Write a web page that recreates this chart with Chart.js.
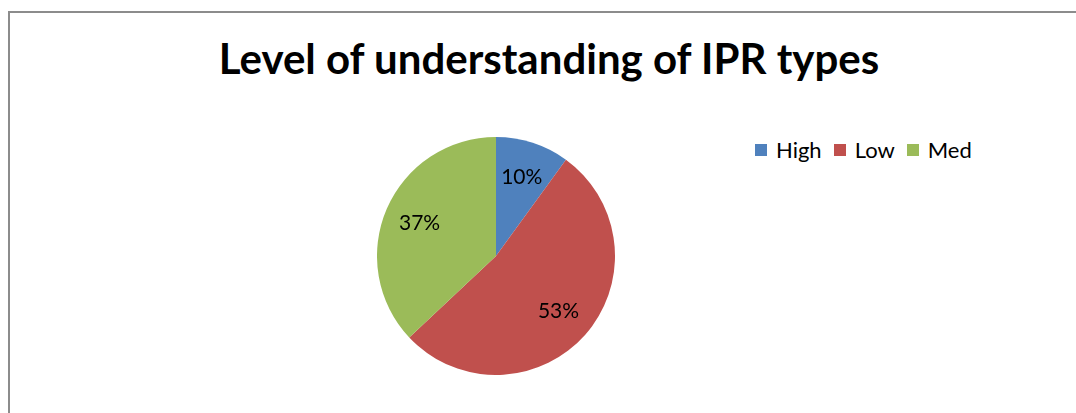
<!DOCTYPE html>
<html>
<head>
<meta charset="utf-8">
<script src="https://cdn.jsdelivr.net/npm/chart.js@4/dist/chart.umd.min.js"></script>
<style>
  html, body { margin: 0; padding: 0; background: #fff; }
  body { width: 1076px; height: 413px; overflow: hidden; position: relative; font-family: Lato, "Open Sans", sans-serif; }
  #frame {
    position: absolute; left: 8px; top: 11px; width: 1090px; height: 430px;
    border-left: 2px solid #8c8c8c; border-top: 2px solid #8c8c8c;
    box-sizing: border-box;
  }
  #title {
    position: absolute; left: 8px; width: 1082px; top: 33px; line-height: 50px;
    text-align: center; font-weight: bold; font-size: 42px; color: #000;
  }
  #pie-wrap { position: absolute; left: 377px; top: 137px; width: 238px; height: 238px; }
  #legend { position: absolute; left: 755px; top: 136px; font-size: 22px; line-height: 28px; color: #000; display: flex; }
  #legend span.item { display: flex; align-items: center; margin-right: 12px; }
  #legend span.box { display: inline-block; width: 12px; height: 12px; margin-right: 9px; }
</style>
</head>
<body>
<div id="frame"></div>
<div id="title">Level of understanding of IPR types</div>
<div id="pie-wrap"><canvas id="pieChart"></canvas></div>
<div id="legend"></div>

<script>
const categories = ['High', 'Low', 'Med'];
const shares = [10, 53, 37];
const sliceColors = ['#4F81BD', '#C0504D', '#9BBB59'];

// percentage labels sit at ~70% of the radius, on each slice's mid angle
const sliceLabels = {
    id: 'sliceLabels',
    afterDatasetsDraw(chart) {
        const ctx = chart.ctx;
        const meta = chart.getDatasetMeta(0);
        ctx.save();
        ctx.font = '21px Lato, "Open Sans", sans-serif';
        ctx.fillStyle = '#000';
        ctx.textAlign = 'center';
        ctx.textBaseline = 'middle';
        meta.data.forEach((arc, i) => {
            const p = arc.getProps(['x', 'y', 'startAngle', 'endAngle', 'outerRadius'], true);
            const mid = (p.startAngle + p.endAngle) / 2;
            const r = p.outerRadius * 0.7;
            ctx.fillText(shares[i] + '%', p.x + Math.cos(mid) * r, p.y + Math.sin(mid) * r);
        });
        ctx.restore();
    }
};

function renderLegend() {
    const el = document.getElementById('legend');
    el.innerHTML = categories.map((c, i) =>
        `<span class="item"><span class="box" style="background:${sliceColors[i]}"></span>${c}</span>`
    ).join('');
}

function initPie() {
    const ctx = document.getElementById('pieChart').getContext('2d');
    new Chart(ctx, {
        type: 'pie',
        data: {
            labels: categories,
            datasets: [{
                data: shares,
                backgroundColor: sliceColors,
                borderWidth: 0
            }]
        },
        options: {
            responsive: true,
            maintainAspectRatio: false,
            animation: false,
            layout: { padding: 0 },
            plugins: { legend: { display: false }, tooltip: { enabled: false } }
        },
        plugins: [sliceLabels]
    });
}

document.addEventListener('DOMContentLoaded', () => {
    renderLegend();
    initPie();
});
</script>
</body>
</html>
